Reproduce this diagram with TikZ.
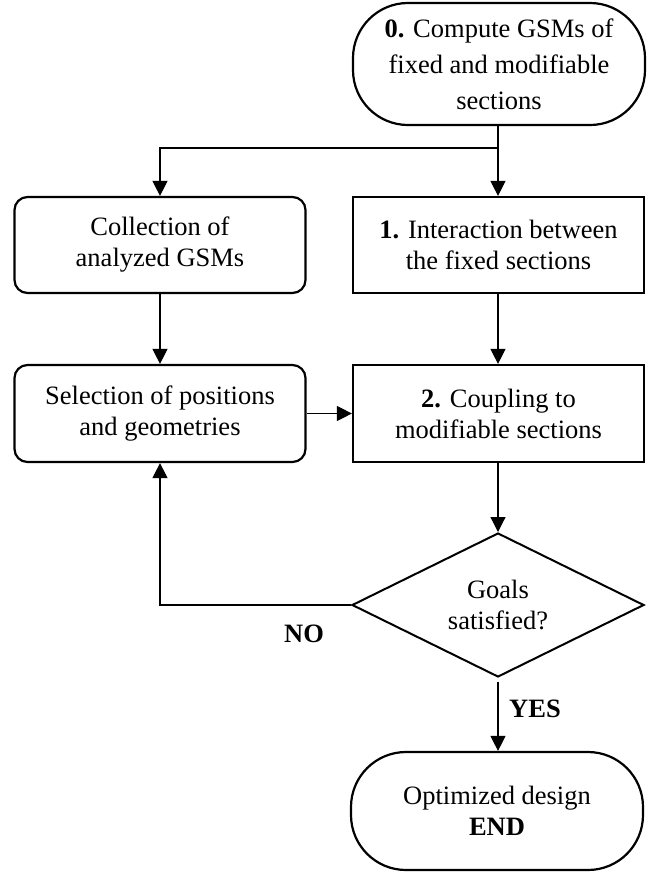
\documentclass[tikz,border=0pt]{standalone}
\usepackage{fontspec}
\setmainfont{Liberation Serif}
\usetikzlibrary{shapes.geometric,arrows.meta}
\begin{document}
\begin{tikzpicture}[x=1pt,y=-1pt,
  every node/.style={font=\fontsize{26.5}{31}\selectfont, align=center, inner sep=0pt},
  boxsq/.style={draw, line width=2.2pt, minimum width=291pt, minimum height=96pt},
  boxrd/.style={boxsq, rounded corners=13pt},
  term/.style={draw, line width=2.2pt, rounded corners=55pt, minimum width=292pt},
  dec/.style={draw, diamond, aspect=2, line width=2pt, minimum width=292pt, minimum height=144pt},
  conn/.style={line width=1.2pt, -{Triangle[width=15pt,length=15pt]}},
  plain/.style={line width=1.2pt},
  lab/.style={font=\fontsize{26.5}{31}\selectfont\bfseries}]
\useasboundingbox (0,0) rectangle (664,873);

\node[term, minimum height=122pt, font=\fontsize{26.5}{36}\selectfont] (start) at (499,64)
  {\textbf{0.} Compute GSMs of\\fixed and modifiable\\sections};
\node[boxrd] (coll) at (160,245) {Collection of\\analyzed GSMs};
\node[boxsq] (box1) at (498.5,245) {\textbf{1.} Interaction between\\the fixed sections};
\node[boxrd, minimum height=97pt] (sel) at (160,413.5) {Selection of positions\\and geometries};
\node[boxsq, minimum height=97pt] (box2) at (498.5,413.5) {\textbf{2.} Coupling to\\modifiable sections};
\node[dec] (dia) at (498,605) {Goals\\satisfied?};
\node[term, minimum height=118pt] (end) at (497,811) {Optimized design\\\textbf{END}};

\coordinate (split) at (498,148);
\node[lab] (no) at (304,634) {NO};
\node[lab] (yes) at (535,709) {YES};

\draw[plain] (start.south -| split) -- (split);
\draw[conn] (split) -- (box1.north -| split);
\draw[conn] (split) -| (coll.north);
\draw[conn] (coll.south) -- (sel.north);
\draw[conn] (box1.south -| split) -- (box2.north -| split);
\draw[conn] (sel.east) -- (box2.west);
\draw[conn] (box2.south -| dia.north) -- (dia.north);
\draw[conn] (dia.west) -| (sel.south);
\draw[conn, shorten <=4pt] (dia.south) -- (end.north -| dia.south);
\end{tikzpicture}
\end{document}
